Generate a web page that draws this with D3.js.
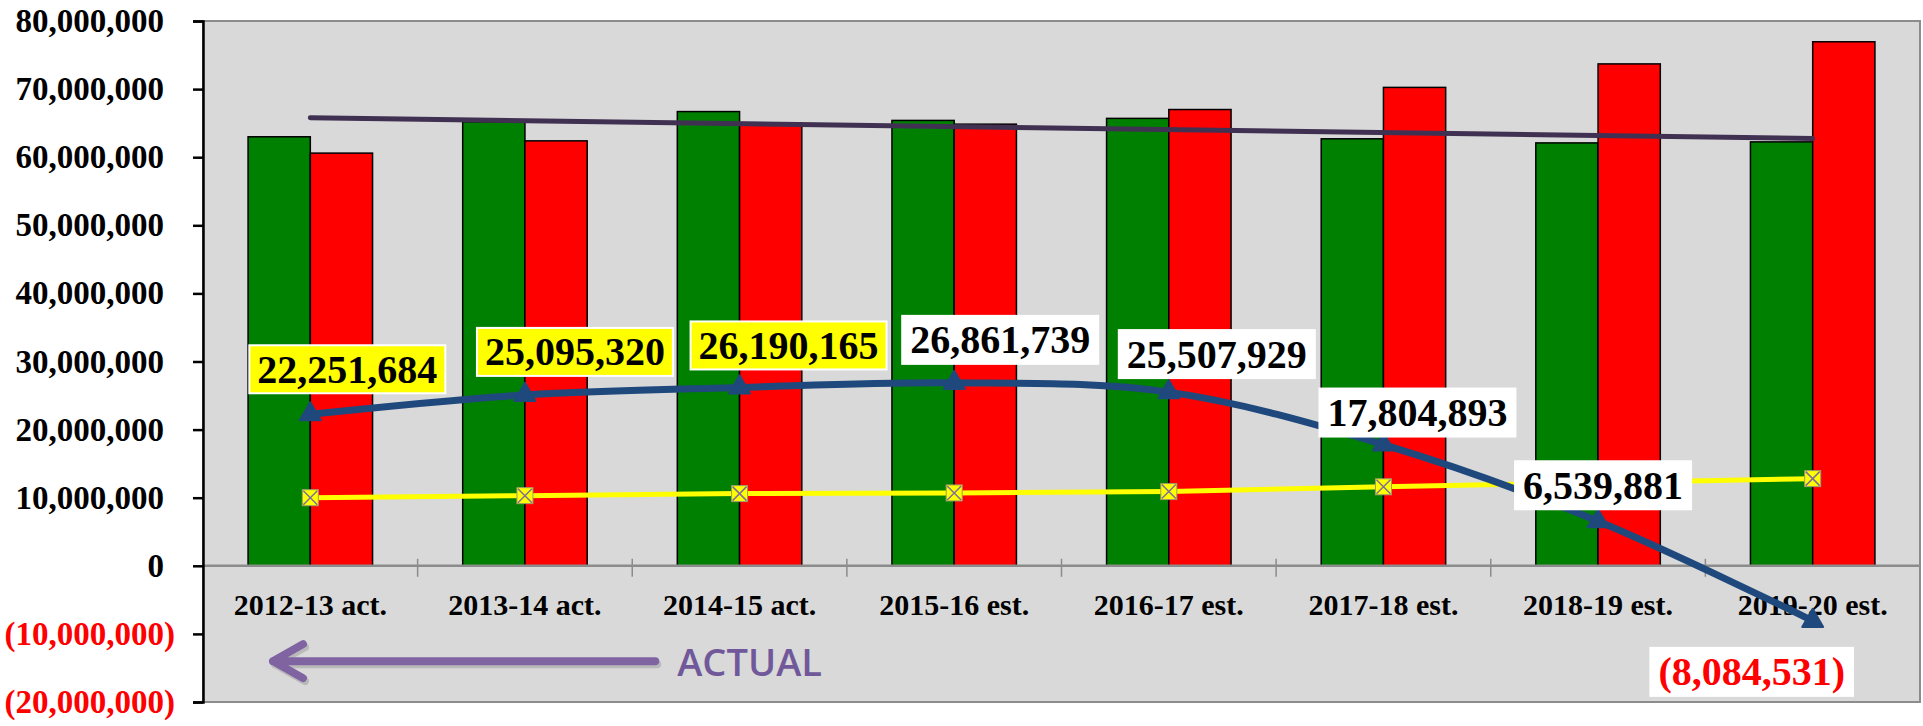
<!DOCTYPE html>
<html lang="en">
<head>
    <meta charset="UTF-8">
    <script src="https://d3js.org/d3.v7.min.js"></script>
    <style>
        body { margin: 0; background: #fff; }
        svg { display: block; }
        .serif { font-family: "Liberation Serif", "Times New Roman", serif; font-weight: bold; }
    </style>
</head>
<body>
    <svg id="chart" width="1923" height="726"></svg>

    <script>
        // values
        const categories = ["2012-13 act.", "2013-14 act.", "2014-15 act.", "2015-16 est.",
                            "2016-17 est.", "2017-18 est.", "2018-19 est.", "2019-20 est."];
        const greenVals = [63.0e6, 65.2e6, 66.7e6, 65.4e6, 65.7e6, 62.7e6, 62.1e6, 62.25e6];
        const redVals = [60.6e6, 62.4e6, 65.0e6, 64.85e6, 67.0e6, 70.25e6, 73.7e6, 76.95e6];
        const balanceVals = [22251684, 25095320, 26190165, 26861739, 25507929, 17804893, 6539881, -8084531];
        const yellowVals = [10.0e6, 10.3e6, 10.6e6, 10.7e6, 10.9e6, 11.6e6, 12.2e6, 12.8e6];
        const trendVals = [65.8e6, 62.75e6];   // straight trend line, first to last category
        const yTicks = [80e6, 70e6, 60e6, 50e6, 40e6, 30e6, 20e6, 10e6, 0, -10e6, -20e6];

        // where each data label box sits relative to its point
        const labelOffsets = [[37, -45], [50, -43], [49, -42], [46, -43], [48, -38], [34, -32], [5, -36], [-61, 51]];

        const margin = { top: 21, right: 3, bottom: 24, left: 203 },
              width = 1923 - margin.left - margin.right,
              height = 726 - margin.top - margin.bottom;

        const svg = d3.select("#chart")
            .append("g")
            .attr("transform", `translate(${margin.left},${margin.top})`);

        const x = d3.scaleBand().domain(categories).range([0, width]);
        const y = d3.scaleLinear().domain([-20e6, 80e6]).range([height, 0]);
        const cx = d => x(d) + x.bandwidth() / 2;
        const barW = x.bandwidth() * 0.29;

        const fmt = v => v < 0 ? `(${d3.format(",")(-v)})` : d3.format(",")(v);

        // plot area
        svg.append("rect")
            .attr("width", width).attr("height", height)
            .attr("fill", "#d9d9d9")
            .attr("stroke", "#8c8c8c").attr("stroke-width", 2);

        // bars
        const barData = categories.map((c, i) => ({ c, g: greenVals[i], r: redVals[i] }));
        svg.selectAll(".green").data(barData).enter().append("rect")
            .attr("x", d => cx(d.c) - barW).attr("width", barW)
            .attr("y", d => y(d.g)).attr("height", d => y(0) - y(d.g))
            .attr("fill", "#008000").attr("stroke", "#000").attr("stroke-width", 1.5);
        svg.selectAll(".red").data(barData).enter().append("rect")
            .attr("x", d => cx(d.c)).attr("width", barW)
            .attr("y", d => y(d.r)).attr("height", d => y(0) - y(d.r))
            .attr("fill", "#ff0000").attr("stroke", "#000").attr("stroke-width", 1.5);

        // zero line with category tick marks
        svg.append("line")
            .attr("x1", 0).attr("x2", width).attr("y1", y(0)).attr("y2", y(0))
            .attr("stroke", "#8c8c8c").attr("stroke-width", 2.5);
        svg.selectAll(".ctick").data(categories.slice(1)).enter().append("line")
            .attr("x1", d => x(d)).attr("x2", d => x(d))
            .attr("y1", y(0) - 7).attr("y2", y(0) + 11)
            .attr("stroke", "#8c8c8c").attr("stroke-width", 1.5);

        svg.selectAll(".clabel").data(categories).enter().append("text")
            .attr("class", "serif")
            .attr("x", d => cx(d)).attr("y", y(0) + 39)
            .attr("text-anchor", "middle").attr("dominant-baseline", "central")
            .attr("font-size", 30).attr("fill", "#000")
            .text(d => d);

        // left axis
        const yAxis = svg.append("g")
            .call(d3.axisLeft(y).tickValues(yTicks).tickSize(10).tickPadding(18).tickFormat(fmt));
        yAxis.select(".domain").attr("stroke", "#000").attr("stroke-width", 2.5);
        yAxis.selectAll(".tick line").attr("stroke", "#000").attr("stroke-width", 2.5);
        yAxis.selectAll(".tick text")
            .attr("class", "serif")
            .attr("font-size", 33)
            .attr("fill", d => d < 0 ? "#ff0000" : "#000")
            .attr("dx", d => d < 0 ? 0 : "-0.333em");

        // trend line
        svg.append("line")
            .attr("x1", cx(categories[0])).attr("y1", y(trendVals[0]))
            .attr("x2", cx(categories[categories.length - 1])).attr("y2", y(trendVals[1]))
            .attr("stroke", "#403152").attr("stroke-width", 5).attr("stroke-linecap", "round");

        // yellow line with x-squares
        const yellowPts = categories.map((c, i) => [cx(c), y(yellowVals[i])]);
        svg.append("path")
            .attr("d", d3.line()(yellowPts))
            .attr("fill", "none").attr("stroke", "#ffff00").attr("stroke-width", 5);
        const sq = svg.selectAll(".sq").data(yellowPts).enter().append("g")
            .attr("transform", d => `translate(${d[0]},${d[1]})`);
        sq.append("rect").attr("x", -8).attr("y", -8).attr("width", 16).attr("height", 16)
            .attr("fill", "#ffff00").attr("stroke", "#a09a70").attr("stroke-width", 1);
        sq.append("path").attr("d", "M-7,-7L7,7M-7,7L7,-7")
            .attr("stroke", "#7f6f9a").attr("stroke-width", 1.5);

        // balance line (smoothed)
        const balPts = categories.map((c, i) => [cx(c), y(balanceVals[i])]);
        svg.append("path")
            .attr("d", d3.line().curve(d3.curveCardinal.tension(0))(balPts))
            .attr("fill", "none").attr("stroke", "#1f497d").attr("stroke-width", 7)
            .attr("stroke-linejoin", "round");
        svg.selectAll(".tri").data(balPts).enter().append("path")
            .attr("transform", d => `translate(${d[0]},${d[1]})`)
            .attr("d", d3.symbol(d3.symbolTriangle, 190))
            .attr("fill", "#1f497d").attr("stroke", "#1f497d").attr("stroke-width", 2)
            .attr("stroke-linejoin", "round");

        // data labels
        const labels = svg.selectAll(".dl").data(balanceVals).enter().append("g")
            .attr("transform", (d, i) => `translate(${balPts[i][0] + labelOffsets[i][0]},${balPts[i][1] + labelOffsets[i][1]})`);
        labels.append("rect")
            .attr("fill", (d, i) => categories[i].includes("act.") ? "#ffff00" : "#ffffff")
            .attr("stroke", "#ffffff").attr("stroke-width", 2);
        labels.append("text")
            .attr("class", "serif")
            .attr("text-anchor", "middle").attr("dominant-baseline", "central")
            .attr("font-size", 40)
            .attr("fill", d => d < 0 ? "#ff0000" : "#000")
            .text(fmt);
        labels.each(function () {
            const g = d3.select(this);
            const b = g.select("text").node().getBBox();
            g.select("rect")
                .attr("x", b.x - 8).attr("y", -24)
                .attr("width", b.width + 16).attr("height", 48);
        });

        // "ACTUAL" arrow
        const arrowY = y(-14e6);
        const arrowX0 = x(categories[0]) + 70, arrowX1 = x(categories[2]) + 23;
        const arrow = svg.append("g");
        [["#9a9a9a", 2, 3, 0.5], ["#8064a2", 0, 0, 1]].forEach(([col, ox, oy, op]) => {
            arrow.append("path")
                .attr("d", `M${arrowX1 + ox},${arrowY + oy}L${arrowX0 + ox},${arrowY + oy}`
                    + `M${arrowX0 + 30 + ox},${arrowY - 17 + oy}L${arrowX0 + ox},${arrowY + oy}L${arrowX0 + 30 + ox},${arrowY + 17 + oy}`)
                .attr("fill", "none").attr("stroke", col).attr("stroke-opacity", op)
                .attr("stroke-width", 8).attr("stroke-linecap", "round").attr("stroke-linejoin", "round");
        });
        svg.append("text")
            .attr("x", arrowX1 + 22).attr("y", arrowY)
            .attr("dominant-baseline", "central")
            .attr("font-family", "'Open Sans', sans-serif").attr("font-weight", 600)
            .attr("font-size", 38).attr("fill", "#70589a")
            .text("ACTUAL");
    </script>
</body>
</html>
